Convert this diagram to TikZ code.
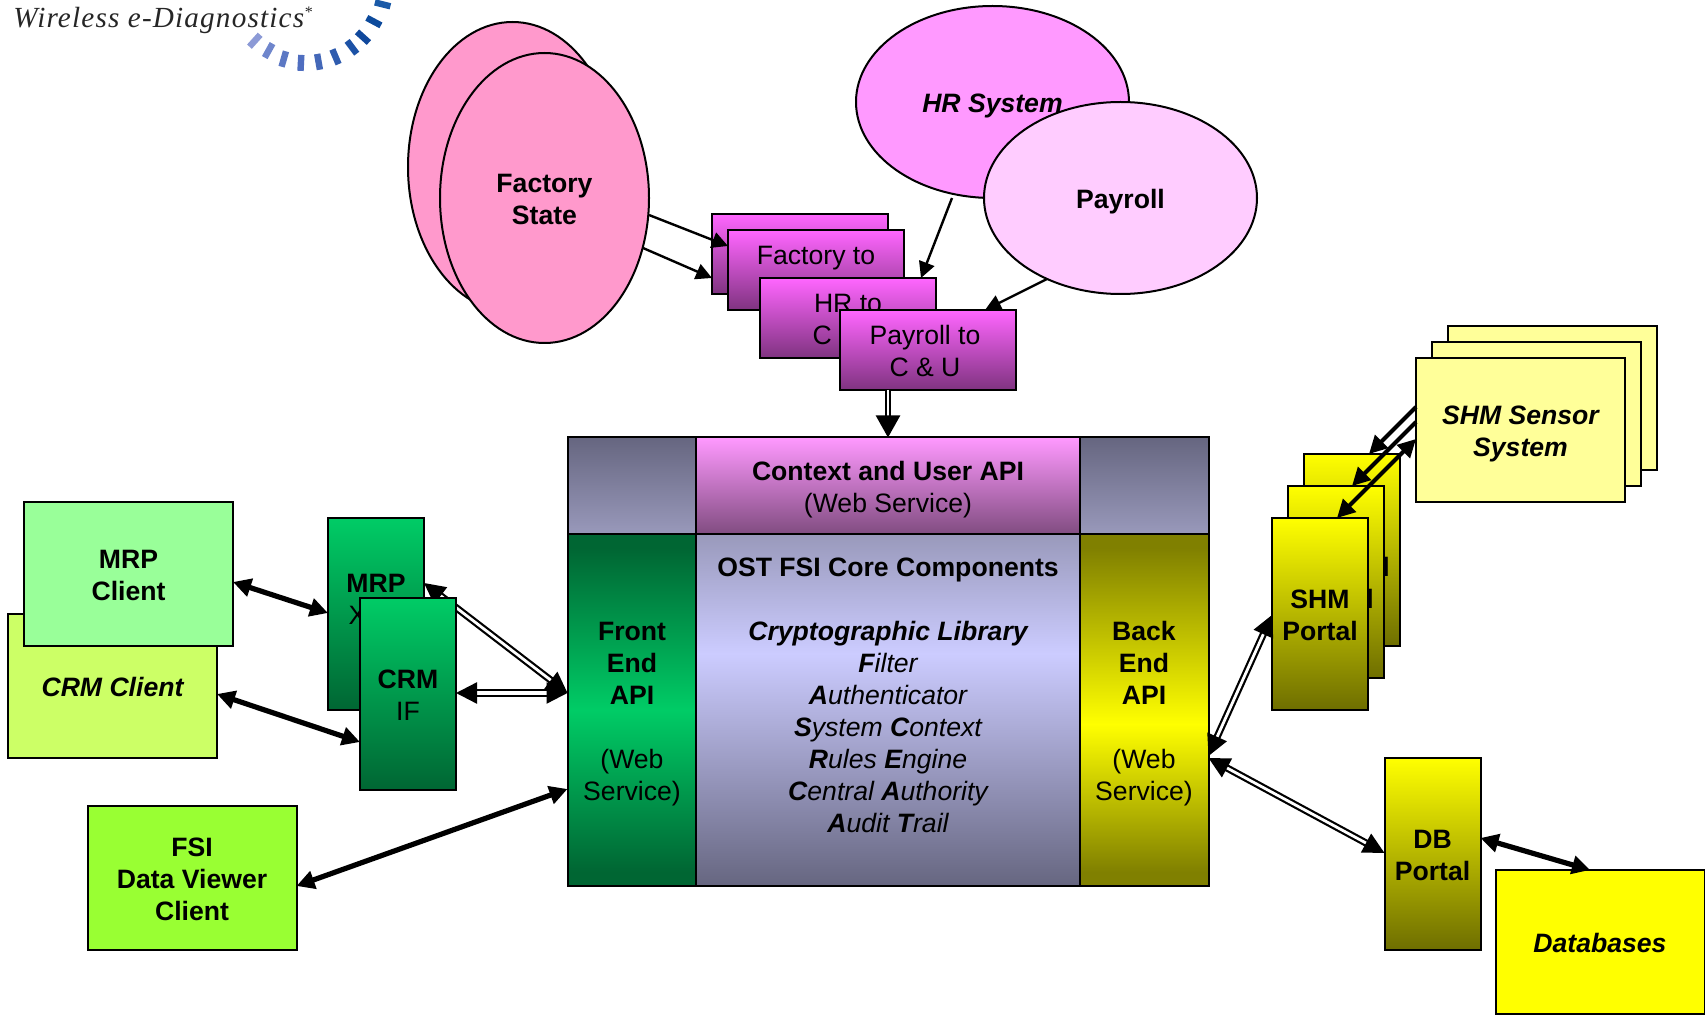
\documentclass[tikz,border=0pt]{standalone}
\usepackage{fontspec}
\setmainfont{Liberation Sans}
\newfontfamily\logofont[LetterSpace=4]{Liberation Serif}
\usetikzlibrary{shapes.geometric,arrows.meta}
\definecolor{gA}{HTML}{00CC66}\definecolor{gB}{HTML}{006633}
\definecolor{pA}{HTML}{FF66FF}\definecolor{pB}{HTML}{7F3380}
\definecolor{yA}{HTML}{FFFF00}\definecolor{yB}{HTML}{6E6E00}
\definecolor{yC}{HTML}{808000}
\definecolor{slA}{HTML}{666680}\definecolor{slB}{HTML}{9999BB}\definecolor{slC}{HTML}{CCCCFF}
\definecolor{cA}{HTML}{FF99FF}\definecolor{cB}{HTML}{804C80}
\definecolor{factoryc}{HTML}{FF99CC}\definecolor{payrollc}{HTML}{FFCCFF}
\definecolor{crmc}{HTML}{CCFF66}\definecolor{mrpc}{HTML}{99FF99}\definecolor{fsic}{HTML}{99FF33}
\definecolor{sensorc}{HTML}{FFFF99}
\pgfdeclareverticalshading{coreshade}{100bp}{color(0bp)=(slA); color(25bp)=(slA); color(58bp)=(slC); color(75bp)=(slB); color(100bp)=(slB)}
\pgfdeclareverticalshading{frontshade}{100bp}{color(0bp)=(gB); color(27bp)=(gB); color(50bp)=(gA); color(73bp)=(gB); color(100bp)=(gB)}
\pgfdeclareverticalshading{backshade}{100bp}{color(0bp)=(yC); color(27bp)=(yC); color(48bp)=(yA); color(73bp)=(yC); color(100bp)=(yC)}
\newcommand\ftop{\rule{0pt}{14pt}}
\tikzset{
  x=0.5pt,y=-0.5pt,
  base/.style={draw=black,line width=1pt,inner sep=0pt,outer sep=0pt,align=center,
    font=\fontsize{13.3}{16}\selectfont\bfseries,
    execute at begin node={\ftop},
    execute at end node={\rule[-3.7pt]{0pt}{0pt}}},
  plain/.style={font=\fontsize{13.3}{16}\selectfont},
  ital/.style={font=\fontsize{13.3}{16}\selectfont\bfseries\itshape},
  oval/.style={base,ellipse},
  client/.style={base,minimum width=104.5pt,minimum height=72pt},
  msgbox/.style={base,plain,minimum width=88pt,minimum height=40pt,top color=pA,bottom color=pB},
  greenbox/.style={base,minimum width=48pt,minimum height=96pt,top color=gA,bottom color=gB},
  yellowbox/.style={base,minimum width=48pt,minimum height=96pt,top color=yA,bottom color=yB},
  tall/.style={base,minimum height=176pt},
  thin/.style={draw=black,line width=1.2pt,-{Triangle[length=8pt,width=8pt]}},
  solidboth/.style={draw=black,line width=2.6pt,{Triangle[length=9pt,width=9pt]}-{Triangle[length=9pt,width=9pt]}},
  solidone/.style={draw=black,line width=2pt,-{Triangle[length=9pt,width=9pt]}},
  dblboth/.style={draw=black,line width=1.1pt,double=white,double distance=1.4pt,{Triangle[length=10.5pt,width=10.5pt]}-{Triangle[length=10.5pt,width=10.5pt]}},
  dbldown/.style={draw=black,line width=1.2pt,double=white,double distance=1pt,-{Triangle[length=11pt,width=12pt]}},
  tick/.style={line width=3.2pt}
}
\begin{document}
\begin{tikzpicture}
\useasboundingbox (0,0) rectangle (1705,1016);
% logo
\node[anchor=base west,inner sep=0pt,text=black!85,font=\logofont\fontsize{14.6}{16}\selectfont\itshape] (logotext) at (13,28) {Wireless e-Diagnostics\raisebox{0.35em}{\fontsize{8}{8}\selectfont*}};
\begin{scope}
\clip (0,0) rectangle (420,90);
\foreach \a/\r/\c in {132/75/8C9AD6,119/75/6F86CC,106/77/5C78C4,93/78/4F6EC0,80/78/4468B8,67/78/2F5CAE,53/78/1C52A6,42/78/10489C,28/78/0C4A9C,14/80/1A5AA8,1/80/1A5AA8}{
  \definecolor{tk}{HTML}{\c}
  \draw[tick,tk] ({305+(\r-8)*cos(\a)},{-15+(\r-8)*sin(\a)}) -- ({305+(\r+8)*cos(\a)},{-15+(\r+8)*sin(\a)});
}
\end{scope}
% ellipses
\node[oval,minimum width=104.5pt,minimum height=145pt,fill=factoryc] (factoryback) at (512.5,167) {};
\node[oval,minimum width=104.5pt,minimum height=145pt,fill=factoryc] (factory) at (544.5,198) {\ftop Factory\\State};
\node[oval,ital,minimum width=136.5pt,minimum height=96pt,fill=cA] (hr) at (992.5,102) {HR System};
\node[oval,minimum width=136.5pt,minimum height=96pt,fill=payrollc] (payroll) at (1120.5,198) {Payroll};
% message boxes
\node[msgbox] (factorymsgback) at (800,254) {};
\node[msgbox] (factorymsg) at (816,270) {\ftop Factory to\\~};
\node[msgbox] (hrmsg) at (848,318) {\ftop HR to\\C \& U};
\node[msgbox] (payrollmsg) at (928,350) {\ftop Payroll to\hspace*{3pt}\\C \& U\hspace*{3pt}};
% main block
\node[base,minimum width=64.5pt,minimum height=48.5pt,top color=slA,bottom color=slB] (cornerl) at (632,486) {};
\node[base,minimum width=64.5pt,minimum height=48.5pt,top color=slA,bottom color=slB] (cornerr) at (1144,486) {};
\node[base,minimum width=192pt,minimum height=48.5pt,top color=cA,bottom color=cB] (context) at (888,486) {\ftop Context and User API\\\mdseries (Web Service)};
\node[tall,minimum width=64.5pt,shading=frontshade] (front) at (632,710) {\ftop Front\\End\\API\\~\\\mdseries (Web\\\mdseries Service)};
\node[tall,minimum width=192pt,shading=coreshade] (core) at (888,710) {\ftop OST FSI Core Components\\~\\\itshape Cryptographic Library\\\itshape F\mdseries ilter\\\itshape A\mdseries uthenticator\\\itshape S\mdseries ystem \bfseries C\mdseries ontext\\\itshape R\mdseries ules \bfseries E\mdseries ngine\\\itshape C\mdseries entral \bfseries A\mdseries uthority\\\itshape A\mdseries udit \bfseries T\mdseries rail\\~};
\node[tall,minimum width=64.5pt,shading=backshade] (back) at (1144,710) {\ftop Back\\End\\API\\~\\\mdseries (Web\\\mdseries Service)};
% left side
\node[client,ital,fill=crmc] (crmclient) at (112.5,686) {CRM Client};
\node[client,fill=mrpc] (mrpclient) at (128.5,574) {\ftop MRP\\Client};
\node[client,fill=fsic] (fsi) at (192,878) {\ftop FSI\\Data Viewer\\Client};
\node[greenbox] (mrpif) at (376,614) {\ftop MRP\\\mdseries XML\\~};
\draw[dblboth] (mrpif.east |- 0,583) -- (front.west |- 0,693);
\node[greenbox] (crmif) at (408,694) {\ftop CRM\\\mdseries IF};
% right side
\node[yellowbox] (shmc) at (1352,550) {\ftop SHM\\Portal};
\node[yellowbox] (shmb) at (1336,582) {\ftop SHM\\Portal};
\node[yellowbox] (shma) at (1320,614) {\ftop SHM\\Portal};
\node[client,fill=sensorc] (sensorcc) at (1552.5,398) {};
\node[client,fill=sensorc] (sensorb) at (1536.5,414) {};
\node[client,ital,fill=sensorc] (sensora) at (1520.5,430) {\ftop SHM Sensor\\System};
\node[yellowbox] (dbportal) at (1432.5,854) {\ftop DB\\Portal};
\node[client,ital,fill=yA] (databases) at (1600,942) {Databases};
\coordinate (dbtop) at (1590,870);
\coordinate (hrout) at (952,198);
\coordinate (payout) at (1047,279);
\coordinate (factout) at (643,248);
% connectors
\draw[thin] (649,215) -- (factorymsg.west |- 0,246);
\draw[thin] (factout) -- (factorymsgback.west |- 0,278);
\draw[thin] (hrout) -- (921,0 |- hrmsg.north);
\draw[thin] (payout) -- (985,0 |- payrollmsg.north);
\draw[dbldown] (888,0 |- payrollmsg.south) -- (context.north);
\draw[solidboth] (mrpclient.east |- 0,582) -- (mrpif.west |- 0,613);
\draw[solidboth] (crmclient.east |- 0,694) -- (crmif.west |- 0,742);
\draw[solidboth] (fsi.east |- 0,886) -- (front.west |- 0,789);
\draw[dblboth,line width=1.2pt,double distance=1.6pt] (crmif.east |- 0,693) -- (front.west |- 0,693);
\draw[dblboth] (back.east |- 0,756) -- (shma.west |- 0,615);
\draw[dblboth] (back.east |- 0,758) -- (dbportal.west |- 0,853);
\draw[solidboth] (dbportal.east |- 0,838) -- (dbtop);
\draw[solidone] (sensora.west |- 0,407) -- (1369,0 |- shmc.north);
\draw[solidone] (sensora.west |- 0,422) -- (1352,0 |- shmb.north);
\draw[solidboth,line width=2pt] (1337,0 |- shma.north) -- (sensora.west |- 0,439);
\end{tikzpicture}
\end{document}
